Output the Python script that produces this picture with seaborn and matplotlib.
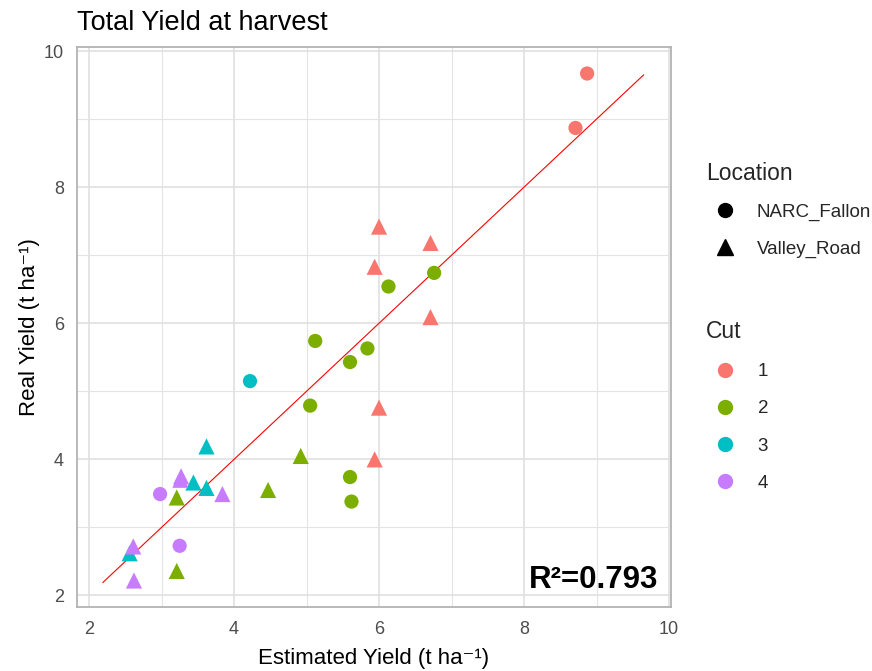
import matplotlib
matplotlib.use("Agg")
import matplotlib.pyplot as plt
import seaborn as sns
import pandas as pd
from matplotlib.lines import Line2D

# Estimated vs. real total yield (t/ha) per plot
est_yield = [8.87, 8.71,
             6.13, 6.76, 5.12, 5.84, 5.60, 5.05, 5.60, 5.62,
             4.22,
             2.98, 3.25,
             6.00, 6.71, 5.94, 6.71, 6.00, 5.94,
             4.92, 4.47, 3.21, 3.21,
             3.62, 3.44, 3.62, 2.56,
             3.27, 3.26, 3.84, 2.61, 2.62]
real_yield = [9.67, 8.87,
              6.54, 6.74, 5.74, 5.63, 5.43, 4.79, 3.74, 3.38,
              5.15,
              3.49, 2.73,
              7.42, 7.18, 6.83, 6.09, 4.76, 4.00,
              4.05, 3.55, 3.44, 2.36,
              4.19, 3.66, 3.58, 2.62,
              3.75, 3.70, 3.49, 2.72, 2.22]
cut = ["1", "1",
       "2", "2", "2", "2", "2", "2", "2", "2",
       "3",
       "4", "4",
       "1", "1", "1", "1", "1", "1",
       "2", "2", "2", "2",
       "3", "3", "3", "3",
       "4", "4", "4", "4", "4"]
location = ["NARC_Fallon"] * 13 + ["Valley_Road"] * 19

# 1:1 reference line over the observed range
line_x = [2.19, 9.65]
line_y = [2.19, 9.65]

r2_label = "R²=0.793"
cut_levels = ["1", "2", "3", "4"]
loc_levels = ["NARC_Fallon", "Valley_Road"]
cut_colors = ["#F8766D", "#7CAE00", "#00BFC4", "#C77CFF"]

df = pd.DataFrame({"Estimated": est_yield, "Real": real_yield,
                   "Cut": cut, "Location": location})

sns.set_theme(style="white")
plt.rcParams["font.family"] = ["Liberation Sans", "DejaVu Sans"]

fig = plt.figure(figsize=(8.72, 6.71), dpi=100)
ax = fig.add_axes([76.7 / 872, 1 - 606.7 / 671, 594 / 872, 559.4 / 671])

palette = dict(zip(cut_levels, cut_colors))
markers = {"NARC_Fallon": "o", "Valley_Road": "^"}
sizes = {"NARC_Fallon": 105, "Valley_Road": 135}

sns.lineplot(x=line_x, y=line_y, ax=ax, color="#FF0000", lw=0.8, zorder=3)
sns.scatterplot(data=df, x="Estimated", y="Real", hue="Cut", style="Location",
                size="Location", hue_order=cut_levels, style_order=loc_levels,
                size_order=loc_levels, palette=palette, markers=markers,
                sizes=sizes, linewidth=0, legend=False, ax=ax, zorder=4)

ax.set_xlim(1.830, 10.023)
ax.set_ylim(1.835, 10.055)
ax.set_xticks([2, 4, 6, 8, 10])
ax.set_yticks([2, 4, 6, 8, 10])
ax.set_xticks([3, 5, 7, 9], minor=True)
ax.set_yticks([3, 5, 7, 9], minor=True)
ax.grid(which="major", color="#DEDEDE", lw=1.1, zorder=0)
ax.grid(which="minor", color="#E4E4E4", lw=0.8, zorder=0)
ax.set_axisbelow(True)
for s in ax.spines.values():
    s.set_color("#B3B3B3")
    s.set_linewidth(1.3)
ax.tick_params(which="major", length=4, width=1.0, color="#B3B3B3",
               labelcolor="#4D4D4D", labelsize=13)
ax.tick_params(axis="x", which="major", pad=6.5)
ax.tick_params(axis="y", which="major", pad=5.3)
ax.tick_params(which="minor", length=0)

ax.set_xlabel("Estimated Yield (t ha⁻¹)", fontsize=16, color="black", labelpad=7)
ax.set_ylabel("Real Yield (t ha⁻¹)", fontsize=16, color="black", labelpad=2.5)

ax.text(9.85, 2.11, r2_label, fontsize=22.5, fontweight="bold",
        ha="right", va="baseline", color="black", zorder=5)

fig.text(77 / 872, 1 - 30 / 671, "Total Yield at harvest", fontsize=19.5,
         ha="left", va="baseline", color="black")

# Legends
loc_handles = [Line2D([], [], ls="", marker=markers[l], color="black",
                      markersize=(10 if l == "NARC_Fallon" else 12))
               for l in loc_levels]
leg1 = fig.legend(loc_handles, loc_levels, title="Location", loc="upper left",
                  bbox_to_anchor=(706 / 872, 1 - 161.5 / 671), frameon=False,
                  fontsize=13.5, title_fontsize=16.5, handlelength=2.0,
                  handletextpad=0.7, labelspacing=1.03, borderpad=0,
                  borderaxespad=0, alignment="left")
cut_handles = [Line2D([], [], ls="", marker="o", color=c, markersize=10)
               for c in cut_colors]
leg2 = fig.legend(cut_handles, cut_levels, title="Cut", loc="upper left",
                  bbox_to_anchor=(706 / 872, 1 - 320 / 671), frameon=False,
                  fontsize=13.5, title_fontsize=16.5, handlelength=2.0,
                  handletextpad=0.75, labelspacing=1.07, borderpad=0,
                  borderaxespad=0, alignment="left")

fig.savefig("out.png", dpi=100)
